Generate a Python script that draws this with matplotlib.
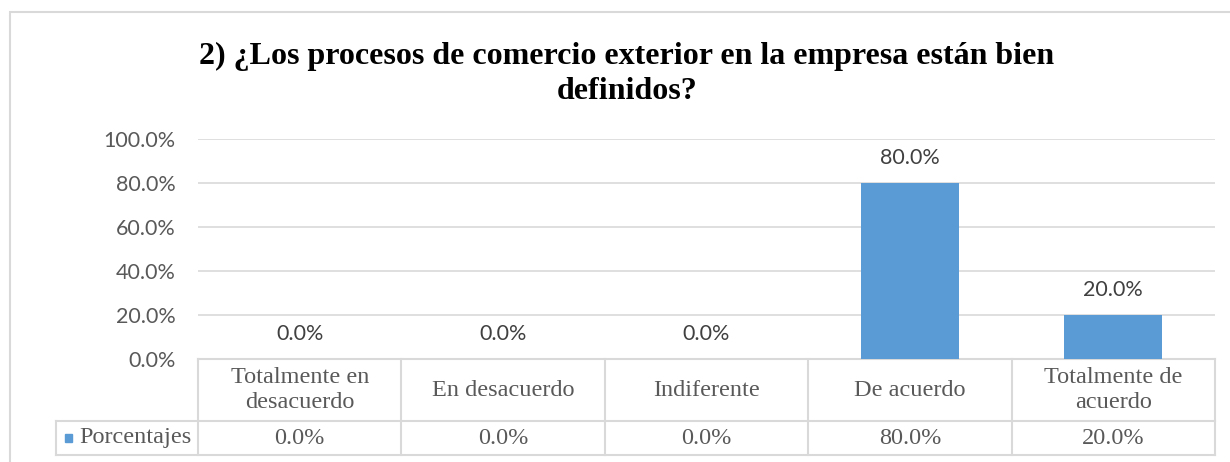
import matplotlib
matplotlib.use('Agg')
import matplotlib.pyplot as plt
import matplotlib.transforms as mtransforms
from matplotlib.patches import Rectangle

categories = ['Totalmente en\ndesacuerdo', 'En desacuerdo', 'Indiferente', 'De acuerdo', 'Totalmente de\nacuerdo']
porcentajes = [0.0, 0.0, 0.0, 80.0, 20.0]
series_name = 'Porcentajes'
yticks = [0, 20, 40, 60, 80, 100]
title = '2) ¿Los procesos de comercio exterior en la empresa están bien\ndefinidos?'

bar_color = '#5b9bd5'
grid_color = '#d9d9d9'
text_color = '#595959'
W, H = 1230, 462

fig = plt.figure(figsize=(W / 100, H / 100), dpi=100)

# outer chart frame
fig.patches.append(Rectangle((10 / W, -0.1), 1.2, 1 - 12 / H + 0.1, transform=fig.transFigure,
                             fill=False, edgecolor=grid_color, linewidth=1.5))

ax = fig.add_axes([198 / W, 1 - 359 / H, (1215 - 198) / W, 220 / H])
x = list(range(len(categories)))
bars = ax.bar(x, porcentajes, width=0.48, color=bar_color, zorder=3)
ax.set_xlim(-0.5, len(categories) - 0.5)
ax.set_ylim(0, 100)
ax.set_yticks(yticks)
ax.set_yticklabels([f'{v:.1f}%' for v in yticks], fontsize=15.5, color=text_color, family='Lato')
ax.tick_params(axis='y', length=0, pad=16)
ax.set_xticks([])
ax.grid(axis='y', color=grid_color, linewidth=1.2, zorder=0)
for s in ax.spines.values():
    s.set_visible(False)

# data labels
for xi, v in zip(x, porcentajes):
    ax.annotate(f'{v:.1f}%', (xi, v), xytext=(0, 18), textcoords='offset points',
                ha='center', va='center', fontsize=15.5, color='#404040', family='Lato')

fig.text(627 / W, 1 - 74 / H, title, ha='center', va='center', fontsize=23, fontweight='bold',
         family='Liberation Serif', linespacing=1.3)

# data table below axis
tr = mtransforms.blended_transform_factory(ax.transData, ax.transAxes)
row1 = -62 / 220
row2 = -96 / 220
leg_left = -0.5 - (198 - 56) / ((1215 - 198) / len(categories))
n = len(categories)
lkw = dict(color=grid_color, linewidth=1.5, transform=tr, clip_on=False)
ax.plot([-0.5, n - 0.5], [0, 0], **lkw)
ax.plot([leg_left, n - 0.5], [row1, row1], **lkw)
ax.plot([leg_left, n - 0.5], [row2, row2], **lkw)
for b in range(n + 1):
    ax.plot([b - 0.5, b - 0.5], [0, row2], **lkw)
ax.plot([leg_left, leg_left], [row1, row2], **lkw)

tkw = dict(transform=tr, ha='center', va='center', fontsize=17.5, color=text_color,
           family='Liberation Serif', clip_on=False, linespacing=1.2)
for xi, cat, v in zip(x, categories, porcentajes):
    ax.text(xi, row1 / 2, cat, **tkw)
    ax.text(xi, (row1 + row2) / 2, f'{v:.1f}%', **tkw)

# legend key inside table
ax.add_patch(Rectangle((leg_left + 0.045, (row1 + row2) / 2 - 0.016), 0.035, 0.032,
                       transform=tr, color=bar_color, clip_on=False))
ax.text(leg_left + 0.115, (row1 + row2) / 2, series_name, transform=tr, ha='left', va='center',
        fontsize=17.5, color=text_color, family='Liberation Serif', clip_on=False)

fig.savefig('out.png', dpi=100)
